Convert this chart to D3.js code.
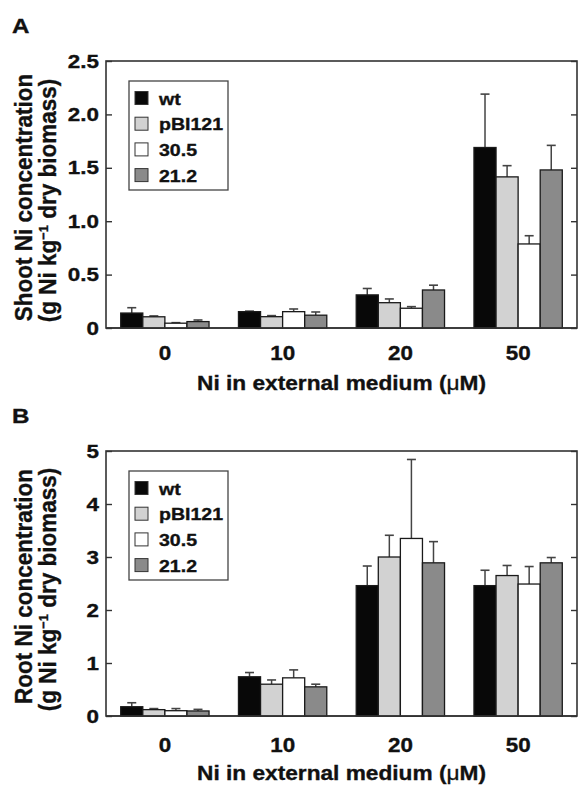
<!DOCTYPE html>
<html>
<head>
<meta charset="utf-8">
<script src="https://cdn.jsdelivr.net/npm/d3@7"></script>
<style>
  body { margin: 0; background: #fff; }
  svg text { font-family: "Liberation Sans", Arial, Helvetica, sans-serif; font-weight: bold; fill: #111; stroke: #111; stroke-width: 0.35px; }
</style>
</head>
<body>
<svg id="chart" width="579" height="786"></svg>
<script>
// categories (Ni in external medium, uM) and lines
var doses = ["0", "10", "20", "50"];
var lines = ["wt", "pBI121", "30.5", "21.2"];
var lineColors = ["#080808", "#d2d2d2", "#ffffff", "#8a8a8a"];

// shoot Ni concentration (panel A), means and upper error
var shootWt     = [0.14, 0.153, 0.31, 1.69];
var shootPBI    = [0.105, 0.106, 0.237, 1.415];
var shoot305    = [0.045, 0.153, 0.185, 0.787];
var shoot212    = [0.06, 0.12, 0.356, 1.48];
var shootWtErr  = [0.05, 0.005, 0.06, 0.50];
var shootPBIErr = [0.008, 0.01, 0.035, 0.105];
var shoot305Err = [0.005, 0.025, 0.015, 0.077];
var shoot212Err = [0.015, 0.03, 0.045, 0.23];
var shootTicks  = [0, 0.5, 1.0, 1.5, 2.0, 2.5];

// root Ni concentration (panel B)
var rootWt      = [0.175, 0.74, 2.46, 2.46];
var rootPBI     = [0.12, 0.60, 3.0, 2.65];
var root305     = [0.10, 0.72, 3.35, 2.49];
var root212     = [0.095, 0.55, 2.89, 2.89];
var rootWtErr   = [0.075, 0.08, 0.37, 0.29];
var rootPBIErr  = [0.02, 0.08, 0.41, 0.19];
var root305Err  = [0.04, 0.15, 1.49, 0.33];
var root212Err  = [0.03, 0.05, 0.40, 0.10];
var rootTicks   = [0, 1, 2, 3, 4, 5];

var SX = 1.15; // the figure is a bit wider than tall, text too

var svg = d3.select("#chart");

function drawPanel(p) {
    var left = 106, right = 577;

    var x0 = d3.scaleBand()
        .domain(doses)
        .range([left, right])
        .paddingInner(0.25)
        .paddingOuter(0.125);

    var x1 = d3.scaleBand()
        .domain(lines)
        .range([0, x0.bandwidth()]);

    var y = d3.scaleLinear()
        .domain([0, p.max])
        .range([p.bottom, p.top]);

    var g = svg.append("g");

    // panel letter
    g.append("text")
        .attr("transform", "translate(12," + p.letterY + ") scale(" + SX + ",1)")
        .style("font-size", "21px")
        .text(p.letter);

    // frame
    g.append("rect")
        .attr("x", left).attr("y", p.top)
        .attr("width", right - left).attr("height", p.bottom - p.top)
        .attr("fill", "none").attr("stroke", "#333").attr("stroke-width", 1.6);

    // left axis, ticks inside
    var ya = g.append("g")
        .attr("transform", "translate(" + left + ",0)")
        .call(d3.axisLeft(y).tickValues(p.ticks).tickSize(-6).tickPadding(7)
            .tickFormat(function (d) { return d === 0 ? "0" : p.fmt(d); }));
    ya.select(".domain").remove();
    ya.selectAll(".tick line").attr("stroke", "#333").attr("stroke-width", 1.4);
    ya.selectAll(".tick text")
        .attr("transform", "scale(1.18,1)")
        .attr("x", -7 / 1.18)
        .style("font-size", "19px").style("font-family", null).attr("fill", "#111");

    // right axis, ticks inside, no labels
    var yr = g.append("g")
        .attr("transform", "translate(" + right + ",0)")
        .call(d3.axisRight(y).tickValues(p.ticks).tickSize(-6).tickFormat(""));
    yr.select(".domain").remove();
    yr.selectAll(".tick line").attr("stroke", "#333").attr("stroke-width", 1.4);

    // category labels
    g.selectAll(".xlab")
        .data(doses)
        .enter().append("text")
        .attr("class", "xlab")
        .attr("transform", function (d) {
            return "translate(" + (x0(d) + x0.bandwidth() / 2) + "," + p.labelY + ") scale(" + SX + ",1)";
        })
        .attr("text-anchor", "middle")
        .style("font-size", "19.5px")
        .text(function (d) { return d; });

    // x title
    var xt = g.append("text")
        .attr("transform", "translate(" + ((left + right) / 2) + "," + p.titleY + ") scale(1.08,1)")
        .attr("text-anchor", "middle")
        .style("font-size", "21px");
    xt.append("tspan").text("Ni in external medium (");
    xt.append("tspan").style("font-weight", "normal").text("\u03bc");
    xt.append("tspan").text("M)");

    // y title, two lines
    var cy = (p.top + p.bottom) / 2 + 3;
    g.append("text")
        .attr("transform", "translate(32," + cy + ") scale(1.05,1) rotate(-90)")
        .attr("text-anchor", "middle")
        .style("font-size", "22.5px")
        .text(p.yTitle);
    var yt2 = g.append("text")
        .attr("transform", "translate(56," + (cy + 3) + ") scale(1.05,1) rotate(-90)")
        .attr("text-anchor", "middle")
        .style("font-size", "22.5px");
    yt2.append("tspan").text("(g Ni kg");
    yt2.append("tspan").attr("dy", -8).style("font-size", "13px").text("\u22121");
    yt2.append("tspan").attr("dy", 8).text(" dry biomass)");

    // bars
    var rows = [];
    doses.forEach(function (d, i) {
        lines.forEach(function (l, j) {
            rows.push({ dose: d, line: l, color: lineColors[j], v: p.values[j][i], e: p.errors[j][i] });
        });
    });

    var bar = g.selectAll(".bar")
        .data(rows)
        .enter().append("g")
        .attr("class", "bar")
        .attr("transform", function (d) { return "translate(" + (x0(d.dose) + x1(d.line)) + ",0)"; });

    bar.append("line")
        .attr("x1", x1.bandwidth() / 2).attr("x2", x1.bandwidth() / 2)
        .attr("y1", function (d) { return y(d.v); })
        .attr("y2", function (d) { return y(d.v + d.e); })
        .attr("stroke", "#444").attr("stroke-width", 1.5);

    bar.append("line")
        .attr("x1", x1.bandwidth() / 2 - 4.5).attr("x2", x1.bandwidth() / 2 + 4.5)
        .attr("y1", function (d) { return y(d.v + d.e); })
        .attr("y2", function (d) { return y(d.v + d.e); })
        .attr("stroke", "#444").attr("stroke-width", 1.6);

    bar.append("rect")
        .attr("x", 0)
        .attr("width", x1.bandwidth())
        .attr("y", function (d) { return y(d.v); })
        .attr("height", function (d) { return y(0) - y(d.v); })
        .attr("fill", function (d) { return d.color; })
        .attr("stroke", "#1a1a1a").attr("stroke-width", 1.3);

    // baseline drawn again over the bars
    g.append("line")
        .attr("x1", left).attr("x2", right)
        .attr("y1", p.bottom).attr("y2", p.bottom)
        .attr("stroke", "#333").attr("stroke-width", 1.6);

    // legend
    var lg = g.append("g").attr("transform", "translate(129," + (p.top + 20) + ")");
    lg.append("rect")
        .attr("width", 99).attr("height", 109)
        .attr("fill", "#fff").attr("stroke", "#444").attr("stroke-width", 1.3);
    var item = lg.selectAll(".item")
        .data(lines)
        .enter().append("g")
        .attr("class", "item")
        .attr("transform", function (d, i) { return "translate(0," + (17 + i * 25.7) + ")"; });
    item.append("rect")
        .attr("x", 6).attr("y", -6.5)
        .attr("width", 13).attr("height", 13)
        .attr("fill", function (d, i) { return lineColors[i]; })
        .attr("stroke", "#333").attr("stroke-width", 1);
    item.append("text")
        .attr("transform", "translate(30,6.5) scale(" + SX + ",1)")
        .style("font-size", "17px")
        .text(function (d) { return d; });
}

drawPanel({
    letter: "A", letterY: 33,
    top: 61, bottom: 328, max: 2.5, ticks: shootTicks, fmt: d3.format(".1f"),
    labelY: 360, titleY: 390,
    yTitle: "Shoot Ni concentration",
    values: [shootWt, shootPBI, shoot305, shoot212],
    errors: [shootWtErr, shootPBIErr, shoot305Err, shoot212Err]
});

drawPanel({
    letter: "B", letterY: 423,
    top: 451, bottom: 716, max: 5, ticks: rootTicks, fmt: d3.format("d"),
    labelY: 752, titleY: 780,
    yTitle: "Root Ni concentration",
    values: [rootWt, rootPBI, root305, root212],
    errors: [rootWtErr, rootPBIErr, root305Err, root212Err]
});
</script>
</body>
</html>
